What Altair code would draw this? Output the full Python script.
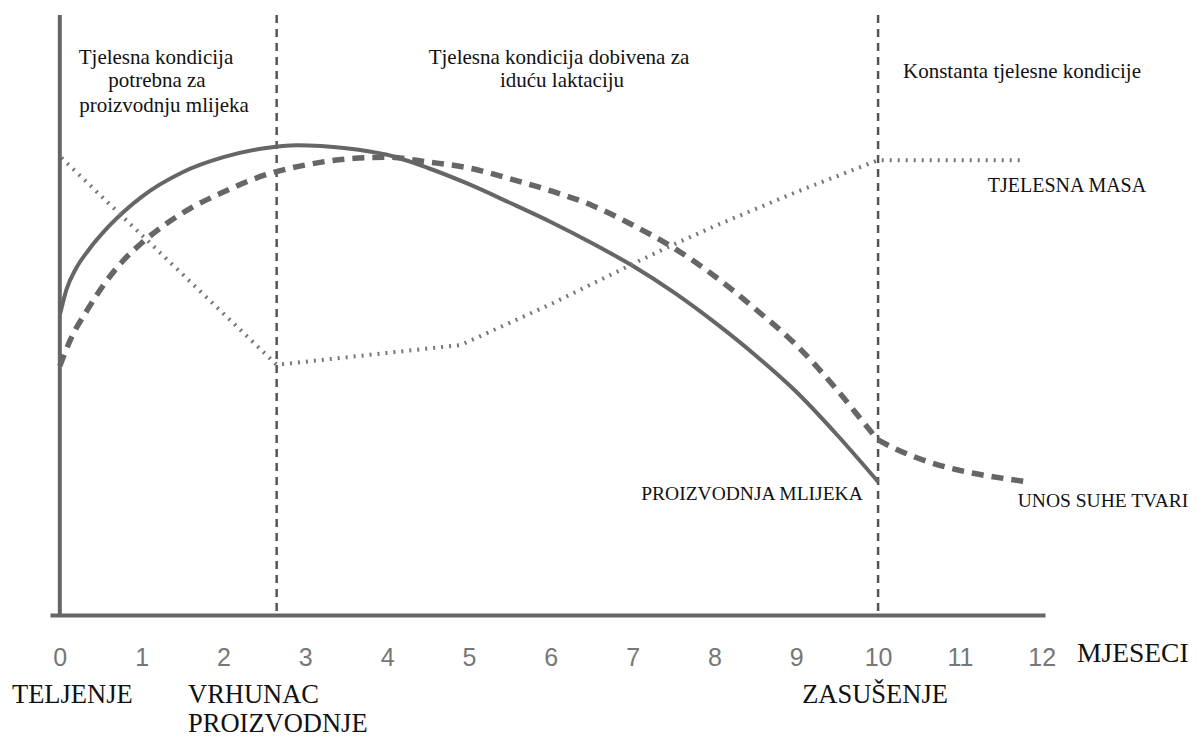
import altair as alt
import pandas as pd

# ---------------- data ----------------
# Milk production (solid)
milk_month = [0, 0.08, 0.2, 0.35, 0.6, 1.0, 1.5, 2.0, 2.5, 2.9, 3.5, 4.0, 4.5, 5.0,
              5.5, 6.0, 6.5, 7.0, 7.5, 8.0, 8.5, 9.0, 9.5, 10.0]
milk_value = [50.0, 54.2, 57.8, 60.8, 64.8, 69.7, 73.8, 76.3, 77.8, 78.3, 77.8, 76.7, 74.5, 71.8,
              68.7, 65.5, 62.0, 58.2, 53.8, 48.8, 43.3, 37.2, 30.0, 22.2]

# Dry matter intake (thick dashed)
dmi_month = [0, 0.15, 0.33, 0.55, 0.77, 1.0, 1.3, 1.6, 2.0, 2.5, 3.0, 3.5, 4.0, 4.5, 5.0,
             5.5, 6.0, 6.5, 7.0, 7.5, 8.0, 8.5, 9.0, 9.5, 9.9, 10.0, 11.82]
dmi_value = [41.5, 46.5, 50.7, 55.3, 59.0, 62.0, 65.2, 67.8, 70.5, 73.3, 75.0, 76.0, 76.3, 75.5,
             74.5, 72.7, 70.7, 68.3, 65.0, 61.2, 56.5, 51.0, 45.0, 37.5, 30.8, 29.2, 22.2]

# Body mass (dotted)
bw_month = [0.02, 2.65, 4.9, 6.0, 7.0, 7.43, 8.0, 9.0, 10.0, 11.8]
bw_value = [76.2, 41.7, 45.0, 51.8, 58.5, 61.3, 64.8, 70.5, 75.8, 75.8]

# Phase boundaries (vertical dashed lines)
phase_month = [2.65, 10.0]

tick_values = list(range(13))

# ---------------- chart ----------------
W, H = 995, 600
xs = alt.Scale(domain=[-0.12, 12.04], nice=False, zero=False)
ys = alt.Scale(domain=[0, 100], nice=False, zero=False)

GRAY = "#666666"
SERIF = "'Liberation Serif', 'Times New Roman', Tinos, 'DejaVu Serif', serif"

x_axis = alt.Axis(values=tick_values, format="d", title=None, grid=False,
                  ticks=False, tickSize=0, labelPadding=30, labelFontSize=25,
                  labelFont="'Liberation Sans', Arial, sans-serif", labelColor="#777777",
                  domainColor=GRAY, domainWidth=4, labelFlush=False)

milk_df = pd.DataFrame({"m": milk_month, "v": milk_value})
dmi_df = pd.DataFrame({"m": dmi_month, "v": dmi_value})
bw_df = pd.DataFrame({"m": bw_month, "v": bw_value})
phase_df = pd.DataFrame({"m": phase_month})

phases = alt.Chart(phase_df).mark_rule(
    color="#555555", strokeWidth=2.5, strokeDash=[8, 6]
).encode(
    x=alt.X("m:Q", scale=xs, axis=x_axis),
    y=alt.value(0),
    y2=alt.value(H),
)

yaxis_line = alt.Chart(pd.DataFrame({"m": [0]})).mark_rule(
    color=GRAY, strokeWidth=4
).encode(
    x=alt.X("m:Q", scale=xs, axis=x_axis),
    y=alt.value(0),
    y2=alt.value(H),
)

milk_line = alt.Chart(milk_df).mark_line(
    color=GRAY, strokeWidth=4, interpolate="monotone"
).encode(
    x=alt.X("m:Q", scale=xs, axis=x_axis),
    y=alt.Y("v:Q", scale=ys, axis=None),
)

dmi_line = alt.Chart(dmi_df).mark_line(
    color=GRAY, strokeWidth=5.5, strokeDash=[12, 8], interpolate="monotone"
).encode(
    x=alt.X("m:Q", scale=xs, axis=x_axis),
    y=alt.Y("v:Q", scale=ys, axis=None),
)

bw_line = alt.Chart(bw_df).mark_line(
    color="#777777", strokeWidth=4, strokeDash=[2, 6], interpolate="linear"
).encode(
    x=alt.X("m:Q", scale=xs, axis=x_axis),
    y=alt.Y("v:Q", scale=ys, axis=None),
)


def label(text, px, py, size, align="center", color="#111111"):
    return alt.Chart(pd.DataFrame({"t": [text]})).mark_text(
        font=SERIF, fontSize=size, align=align, baseline="alphabetic", color=color
    ).encode(text="t:N", x=alt.value(px), y=alt.value(py))


# positions are page pixels minus plot origin (50, 15)
texts = [
    label("Tjelesna kondicija", 106, 49, 21),
    label("potrebna za", 107, 72, 21),
    label("proizvodnju mlijeka", 114, 97, 21),
    label("Tjelesna kondicija dobivena za", 509, 49, 21),
    label("iduću laktaciju", 512, 72, 21),
    label("Konstanta tjelesne kondicije", 972, 63, 21),
    label("TJELESNA MASA", 1017, 177, 20),
    label("PROIZVODNJA MLIJEKA", 702, 485, 19.5),
    label("UNOS SUHE TVARI", 1053, 492, 19.5),
    label("MJESECI", 1027, 647, 27.5, align="left"),
    label("TELJENJE", -38, 688, 26.5, align="left"),
    label("VRHUNAC", 138, 688, 26.5, align="left"),
    label("PROIZVODNJE", 138, 717, 26.5, align="left"),
    label("ZASUŠENJE", 825, 688, 26.5),
]

chart = alt.layer(phases, milk_line, dmi_line, bw_line, yaxis_line, *texts).properties(
    width=W, height=H,
    autosize=alt.AutoSizeParams(type="none"),
    padding={"left": 42, "top": 7, "right": 145, "bottom": 124},
    background="white",
).configure_view(stroke=None)

chart.save("out.html", embed_options={"renderer": "svg", "actions": False})
